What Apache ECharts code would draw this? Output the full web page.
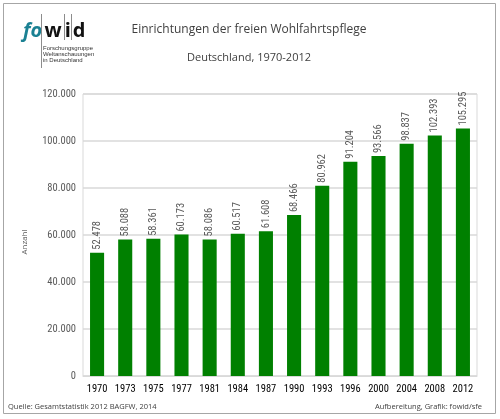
<!DOCTYPE html>
<html><head><meta charset="utf-8">
<script src="https://cdn.jsdelivr.net/npm/echarts@6/dist/echarts.min.js"></script>
<style>html,body{margin:0;padding:0;background:#fff}#c{width:500px;height:419px}</style>
</head><body><div id="c"></div>
<script>
const years = ['1970','1973','1975','1977','1981','1984','1987','1990','1993','1996','2000','2004','2008','2012'];
const counts = [52478,58088,58361,60173,58086,60517,61608,68466,80962,91204,93566,98837,102393,105295];
const yTicks = {min:0, max:120000, interval:20000};
const titleText = 'Einrichtungen der freien Wohlfahrtspflege';
const subtitleText = 'Deutschland, 1970-2012';
const sourceText = 'Quelle: Gesamtstatistik 2012 BAGFW, 2014';
const creditText = 'Aufbereitung, Grafik: fowid/sfe';
const yName = 'Anzahl';

function fmt(v){return String(v).replace(/\B(?=(\d{3})+(?!\d))/g,'.');}
const NARROW = '"Roboto Condensed","Liberation Sans",sans-serif';

const chart = echarts.init(document.getElementById('c'), null, {renderer:'canvas'});
chart.setOption({
  animation:false,
  backgroundColor:'#fff',
  grid:{left:83,right:23,top:94,bottom:43,show:true,borderColor:'#d9d9d9',borderWidth:1},
  xAxis:{type:'category',data:years,
    axisLine:{lineStyle:{color:'#d9d9d9'}},axisTick:{show:false},
    axisLabel:{interval:0,color:'#000',fontSize:10.5,fontFamily:NARROW,margin:8}},
  yAxis:{type:'value',min:yTicks.min,max:yTicks.max,interval:yTicks.interval,
    axisLine:{show:false},axisTick:{show:false},
    splitLine:{lineStyle:{color:'#d9d9d9',width:1.5}},
    axisLabel:{color:'#595959',fontSize:10.5,fontFamily:NARROW,margin:7,formatter:fmt}},
  series:[{type:'bar',data:counts,barWidth:'50%',
    itemStyle:{color:'#008000'},
    label:{show:true,position:'top',rotate:90,align:'left',verticalAlign:'middle',distance:3,
      color:'#595959',fontSize:10.5,fontFamily:NARROW,formatter:p=>fmt(p.value)}}],
  graphic:[
    {type:'rect',shape:{x:3.5,y:3.5,width:492,height:410},style:{fill:'none',stroke:'#a6a6a6',lineWidth:1},silent:true},
    {type:'text',x:249,y:30,style:{text:titleText,font:'12px "Open Sans"',fill:'#404040',align:'center',verticalAlign:'middle'}},
    {type:'text',x:249,y:58,style:{text:subtitleText,font:'11px "Open Sans"',fill:'#404040',align:'center',verticalAlign:'middle'}},
    {type:'text',x:25,y:242,rotation:Math.PI/2,style:{text:yName,font:'8px "Open Sans"',fill:'#595959',align:'center',verticalAlign:'middle'}},
    {type:'text',x:8,y:407,style:{text:sourceText,font:'7.5px "Open Sans"',fill:'#404040',align:'left',verticalAlign:'middle'}},
    {type:'text',x:482,y:407,style:{text:creditText,font:'7.5px "Open Sans"',fill:'#404040',align:'right',verticalAlign:'middle'}},
    {type:'text',x:23,y:31,style:{text:'fo',font:'italic bold 20px "Open Sans"',fill:'#1b8193',align:'left',verticalAlign:'middle'}},
    {type:'line',shape:{x1:41.5,y1:14,x2:41.5,y2:68},style:{stroke:'#8c8c8c',lineWidth:1}},
    {type:'text',x:53,y:31,style:{text:'w',font:'bold 20px "Open Sans"',fill:'#111',align:'center',verticalAlign:'middle'}},
    {type:'line',shape:{x1:64.5,y1:14,x2:64.5,y2:40},style:{stroke:'#8c8c8c',lineWidth:1}},
    {type:'text',x:67.8,y:31,style:{text:'i',font:'bold 20px "Open Sans"',fill:'#111',align:'center',verticalAlign:'middle'}},
    {type:'line',shape:{x1:71.5,y1:14,x2:71.5,y2:40},style:{stroke:'#8c8c8c',lineWidth:1}},
    {type:'text',x:79,y:31,style:{text:'d',font:'bold 20px "Open Sans"',fill:'#111',align:'center',verticalAlign:'middle'}},
    {type:'text',x:43,y:48,style:{text:'Forschungsgruppe',font:'6px "Liberation Sans"',fill:'#333',verticalAlign:'middle'}},
    {type:'text',x:43,y:54,style:{text:'Weltanschauungen',font:'6px "Liberation Sans"',fill:'#333',verticalAlign:'middle'}},
    {type:'text',x:43,y:60,style:{text:'in Deutschland',font:'6px "Liberation Sans"',fill:'#333',verticalAlign:'middle'}}
  ]
});
</script></body></html>
